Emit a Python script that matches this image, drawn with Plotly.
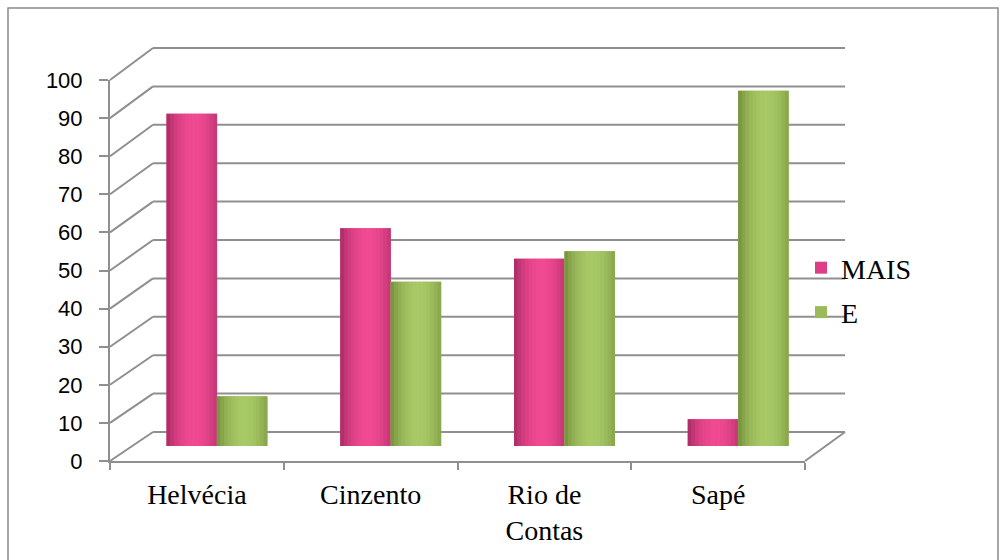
import math
import plotly.graph_objects as go

categories = ["Helvécia", "Cinzento", "Rio de<br>Contas", "Sapé"]
mais_values = [87, 57, 49, 7]
e_values = [13, 43, 51, 93]
y_ticks = [0, 10, 20, 30, 40, 50, 60, 70, 80, 90, 100]

W, H = 1006, 560
def px(x): return x / W
def py(y): return 1 - y / H

# front axis (labels), mid plane (bars), back wall (grid)
FX0, FX1, FY0, FY1 = 110, 805, 461, 80
MX0, MX1, MY0, MY1 = 130, 825, 446, 64
BX0, BX1, BY0, BY1 = 153, 845, 432, 48

fig = go.Figure()

pink = {"base": "#dd3f87", "edge": (150, 36, 88), "light": (240, 74, 146)}
green = {"base": "#9bbb59", "edge": (104, 130, 50), "light": (168, 201, 102)}
bw = 0.29
NSLICE = 14

def mix(a, b, f):
    return "rgb(%d,%d,%d)" % tuple(round(a[i] + (b[i] - a[i]) * f) for i in range(3))

def add_cyl(vals, offset, cols, name):
    fig.add_trace(go.Bar(x=categories, y=vals, xaxis="x2", yaxis="y2",
                         width=bw, offset=offset,
                         marker=dict(color=cols["base"], line=dict(width=0)),
                         name=name, legendgroup=name, showlegend=True))
    sw = bw / NSLICE
    for k in range(NSLICE):
        t = (k + 0.5) / NSLICE
        f = max(0.0, math.cos((t - 0.55) * math.pi / 1.15)) ** 0.7
        fig.add_trace(go.Bar(x=categories, y=vals, xaxis="x2", yaxis="y2",
                             width=sw * 1.08, offset=offset + k * sw,
                             marker=dict(color=mix(cols["edge"], cols["light"], f),
                                         line=dict(width=0)),
                             name=name, legendgroup=name, showlegend=False,
                             hoverinfo="skip"))

add_cyl(mais_values, -bw, pink, "MAIS")
add_cyl(e_values, 0.0, green, "E")

# dummy trace for front axes
fig.add_trace(go.Scatter(x=categories, y=[None]*4, xaxis="x", yaxis="y",
                         showlegend=False, hoverinfo="skip"))

grid_col = "#8f8f8f"
shapes = []
for v in y_ticks:
    fy = FY0 + (FY1 - FY0) * v / 100
    by = BY0 + (BY1 - BY0) * v / 100
    shapes.append(dict(type="line", xref="paper", yref="paper", layer="below",
                       x0=px(FX0), y0=py(fy), x1=px(BX0), y1=py(by),
                       line=dict(color=grid_col, width=2)))
    shapes.append(dict(type="line", xref="paper", yref="paper", layer="below",
                       x0=px(BX0), y0=py(by), x1=px(BX1), y1=py(by),
                       line=dict(color=grid_col, width=2)))
# floor right edge
shapes.append(dict(type="line", xref="paper", yref="paper", layer="below",
                   x0=px(FX1), y0=py(FY0), x1=px(BX1), y1=py(BY0),
                   line=dict(color=grid_col, width=2)))
# chart border
shapes.append(dict(type="rect", xref="paper", yref="paper", layer="below",
                   x0=px(8), y0=py(600), x1=px(998), y1=py(8),
                   line=dict(color="#8a8a8a", width=1.5), fillcolor="rgba(0,0,0,0)"))

fig.update_layout(
    width=W, height=H, margin=dict(l=0, r=0, t=0, b=0, autoexpand=False),
    paper_bgcolor="white", plot_bgcolor="rgba(0,0,0,0)",
    barmode="overlay",
    shapes=shapes,
    xaxis=dict(domain=[px(FX0), px(FX1)], anchor="y", type="category",
               range=[-0.5, 3.5], tickson="boundaries", ticks="outside",
               ticklen=7, tickcolor=grid_col, tickwidth=2, automargin=False,
               ticklabelstandoff=7,
               showline=True, linecolor=grid_col, linewidth=2, showgrid=False,
               tickfont=dict(family="Liberation Serif", size=28, color="black")),
    yaxis=dict(domain=[py(FY0), py(FY1)], anchor="x", range=[0, 100],
               tickvals=y_ticks, ticks="outside", ticklen=9, tickcolor=grid_col,
               tickwidth=2, showline=True, linecolor=grid_col, linewidth=2,
               showgrid=False, zeroline=False, automargin=False,
               ticklabelstandoff=12,
               tickfont=dict(family="Liberation Sans", size=22, color="black")),
    xaxis2=dict(domain=[px(MX0), px(MX1)], anchor="y2", type="category",
                range=[-0.5, 3.5], visible=False, automargin=False),
    yaxis2=dict(domain=[py(MY0), py(MY1)], anchor="x2", range=[0, 100],
                visible=False, automargin=False),
    legend=dict(x=px(801), y=py(243), xanchor="left", yanchor="top",
                traceorder="grouped", tracegroupgap=5,
                font=dict(family="Liberation Serif", size=28, color="black"),
                bgcolor="rgba(0,0,0,0)", itemwidth=30),
    showlegend=True,
)

fig.write_html("out.html")
